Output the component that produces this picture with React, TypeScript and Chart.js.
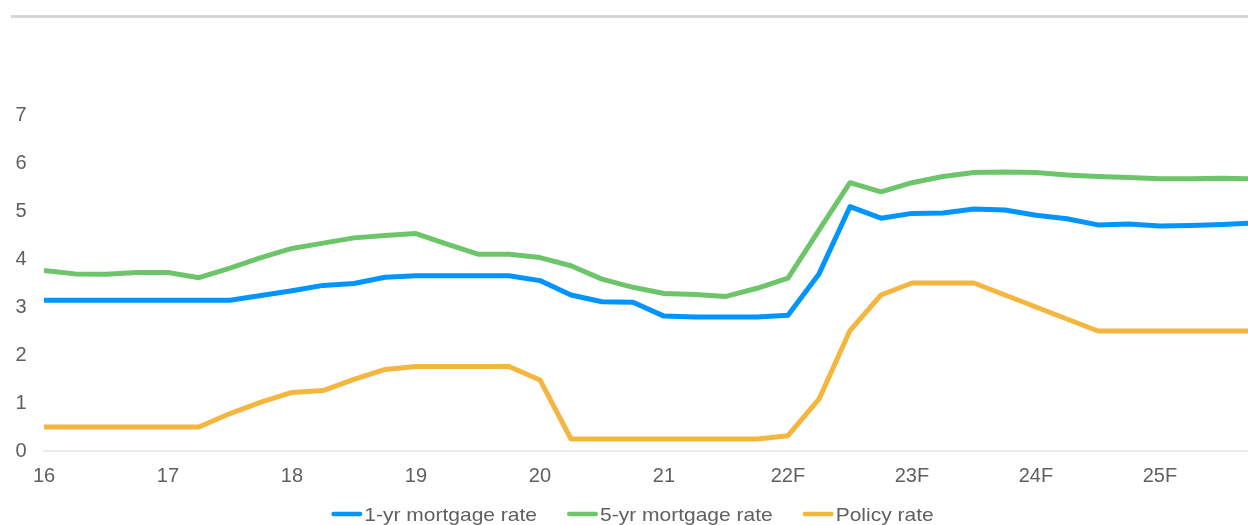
import React, { useEffect, useRef } from "react";
import { Chart, registerables } from "chart.js";

Chart.register(...registerables);

const quarters = [
  "16Q1", "16Q2", "16Q3", "16Q4", "17Q1", "17Q2", "17Q3", "17Q4",
  "18Q1", "18Q2", "18Q3", "18Q4", "19Q1", "19Q2", "19Q3", "19Q4",
  "20Q1", "20Q2", "20Q3", "20Q4", "21Q1", "21Q2", "21Q3", "21Q4",
  "22Q1", "22Q2", "22Q3", "22Q4", "23Q1", "23Q2", "23Q3", "23Q4",
  "24Q1", "24Q2", "24Q3", "24Q4", "25Q1", "25Q2", "25Q3", "25Q4",
];

const yearTickLabels = ["16", "17", "18", "19", "20", "21", "22F", "23F", "24F", "25F"];

const oneYearRate = [
  3.14, 3.14, 3.14, 3.14, 3.14, 3.14, 3.14, 3.24,
  3.34, 3.45, 3.49, 3.62, 3.65, 3.65, 3.65, 3.65,
  3.55, 3.25, 3.11, 3.10, 2.81, 2.79, 2.79, 2.79,
  2.83, 3.69, 5.09, 4.85, 4.95, 4.96, 5.04, 5.02,
  4.91, 4.84, 4.71, 4.73, 4.69, 4.70, 4.72, 4.75,
];

const fiveYearRate = [
  3.76, 3.69, 3.68, 3.72, 3.72, 3.61, 3.81, 4.03,
  4.22, 4.33, 4.44, 4.49, 4.53, 4.31, 4.10, 4.10,
  4.03, 3.86, 3.58, 3.41, 3.28, 3.26, 3.22, 3.39,
  3.60, 4.60, 5.59, 5.40, 5.59, 5.72, 5.80, 5.81,
  5.80, 5.75, 5.72, 5.70, 5.67, 5.67, 5.68, 5.67,
];

const policyRate = [
  0.5, 0.5, 0.5, 0.5, 0.5, 0.5, 0.78, 1.02,
  1.22, 1.26, 1.49, 1.70, 1.76, 1.76, 1.76, 1.76,
  1.48, 0.25, 0.25, 0.25, 0.25, 0.25, 0.25, 0.25,
  0.32, 1.08, 2.51, 3.25, 3.5, 3.5, 3.5, 3.25,
  3.0, 2.75, 2.5, 2.5, 2.5, 2.5, 2.5, 2.5,
];

const seriesNames = ["1-yr mortgage rate", "5-yr mortgage rate", "Policy rate"];
const seriesColors = ["#0094FF", "#6DC56A", "#F5B640"];
const seriesValues = [oneYearRate, fiveYearRate, policyRate];

const TEXT_COLOR = "#606060";
const FONT_FAMILY = '"Liberation Sans", Arial, Helvetica, sans-serif';

const bottomLegend = {
  id: "bottomLegend",
  afterDraw(chart: any) {
    const ctx = chart.ctx;
    const fontSize = 19;
    const hScale = 1.105;
    const swatch = 31;
    const gapText = 2;
    const gapItem = 30;
    const centerX = 632.5;
    const baseY = 521;
    const lineY = 514;
    const lw = 4.5;
    ctx.save();
    ctx.font = `${fontSize}px ${FONT_FAMILY}`;
    const items = chart.data.datasets.map((ds: any) => ({
      text: ds.label,
      color: ds.borderColor,
      w: ctx.measureText(ds.label).width * hScale,
    }));
    let total = 0;
    items.forEach((it: any, i: number) => {
      total += swatch + gapText + it.w + (i < items.length - 1 ? gapItem : 0);
    });
    let x = centerX - total / 2;
    items.forEach((it: any) => {
      ctx.strokeStyle = it.color;
      ctx.lineWidth = lw;
      ctx.lineCap = "round";
      ctx.beginPath();
      ctx.moveTo(x + lw / 2, lineY);
      ctx.lineTo(x + swatch - lw / 2, lineY);
      ctx.stroke();
      const tx = x + swatch + gapText;
      ctx.save();
      ctx.translate(tx, baseY);
      ctx.scale(hScale, 1);
      ctx.fillStyle = TEXT_COLOR;
      ctx.textBaseline = "alphabetic";
      ctx.textAlign = "left";
      ctx.fillText(it.text, 0, 0);
      ctx.restore();
      x = tx + it.w + gapItem;
    });
    ctx.restore();
  },
};

export default function App() {
  const canvasRef = useRef<HTMLCanvasElement | null>(null);

  useEffect(() => {
    const canvas = canvasRef.current;
    if (!canvas) return;
    const chart = new Chart(canvas, {
      type: "line",
      data: {
        datasets: seriesNames.map((name, s) => ({
          label: name,
          data: seriesValues[s].map((v, i) => ({ x: i, y: v, q: quarters[i] })),
          borderColor: seriesColors[s],
          backgroundColor: seriesColors[s],
          borderWidth: 5,
          pointRadius: 0,
          pointHoverRadius: 0,
          tension: 0,
          borderJoinStyle: "round",
          fill: false,
        })),
      },
      options: {
        responsive: false,
        animation: false,
        devicePixelRatio: 1,
        layout: { padding: { top: 115, left: 0, right: 0, bottom: 24 } },
        plugins: {
          legend: { display: false },
          tooltip: { enabled: false },
          title: { display: false },
        },
        scales: {
          x: {
            type: "linear",
            min: 0,
            max: 38.84,
            grid: { display: false, drawTicks: false },
            border: { display: true, color: "#ebebeb", width: 2 },
            ticks: {
              stepSize: 4,
              includeBounds: false,
              autoSkip: false,
              maxRotation: 0,
              minRotation: 0,
              padding: 13,
              color: TEXT_COLOR,
              font: { family: FONT_FAMILY, size: 20 },
              callback: (v: any) => {
                const n = Number(v);
                if (n % 4 !== 0) return "";
                const lbl = yearTickLabels[n / 4];
                return lbl === undefined ? "" : lbl;
              },
            },
          },
          y: {
            min: 0,
            max: 7,
            grid: { display: false, drawTicks: false },
            border: { display: false },
            afterFit: (scale: any) => {
              scale.width = 44;
            },
            ticks: {
              stepSize: 1,
              padding: 17.5,
              color: TEXT_COLOR,
              font: { family: FONT_FAMILY, size: 20 },
            },
          },
        },
      },
      plugins: [bottomLegend],
    });
    return () => chart.destroy();
  }, []);

  return (
    <div
      style={{
        position: "fixed",
        left: 0,
        top: 0,
        width: 1248,
        height: 525,
        background: "#ffffff",
        overflow: "hidden",
      }}
    >
      <div
        style={{
          position: "absolute",
          left: 11,
          right: 0,
          top: 15,
          height: 3,
          background: "#d6d6d6",
        }}
      />
      <canvas ref={canvasRef} width={1248} height={525} style={{ display: "block" }} />
    </div>
  );
}
